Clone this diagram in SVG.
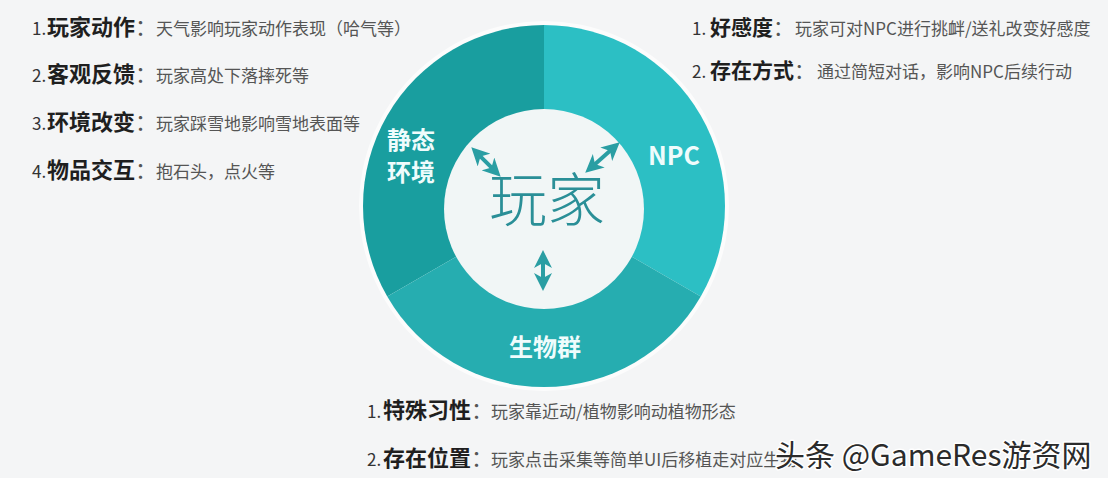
<svg xmlns="http://www.w3.org/2000/svg" width="1108" height="478" viewBox="0 0 1108 478">
  <style>
    text { font-family: "Noto Sans CJK SC", "Noto Sans", sans-serif; }
    .num { font-size: 17px; fill: #333; }
    .hd { font-size: 22px; font-weight: 700; fill: #1f1f1f; }
    .hdr { font-size: 21px; font-weight: 700; fill: #1f1f1f; }
    .col { font-weight: 400; fill: #555; }
    .ds { font-size: 17px; fill: #555; }
    .seglbl { font-size: 24px; font-weight: 700; fill: #effcfc; text-anchor: middle; }
    .player { font-size: 58px; font-weight: 300; fill: #2a8f97; text-anchor: middle; }
    .conn { stroke: #2a9ea3; stroke-width: 4; fill: none; marker-start: url(#ah); marker-end: url(#ah); }
    .wm { font-size: 30px; fill: #2b2b2b; stroke: #ffffff; stroke-width: 3; paint-order: stroke; stroke-linejoin: round; }
  </style>
  <defs>
    <marker id="ah" viewBox="0 0 18 18" refX="7" refY="9" markerWidth="18" markerHeight="18" orient="auto-start-reverse" markerUnits="userSpaceOnUse">
      <path d="M0,0 L18,9 L0,18 L5,9 Z" fill="#2a9ea3"/>
    </marker>
  </defs>
  <rect x="0" y="0" width="1108" height="478" fill="#f4f5f6"/>
  <circle cx="544" cy="206" r="185" fill="#ffffff" opacity="0.7"/>

  <g id="node-static">
    <path d="M544,206 L387.25,296.5 A181,181 0 0 1 544,25 Z" fill="#199e9f"/>
    <text class="seglbl" x="411" y="149">静态</text>
    <text class="seglbl" x="411" y="181">环境</text>
  </g>
  <g id="node-npc">
    <path d="M544,206 L544,25 A181,181 0 0 1 700.75,296.5 Z" fill="#2cbfc4"/>
    <text class="seglbl" x="674" y="165" style="font-size:25px">NPC</text>
  </g>
  <g id="node-bio">
    <path d="M544,206 L700.75,296.5 A181,181 0 0 1 387.25,296.5 Z" fill="#26adb0"/>
    <text class="seglbl" x="545" y="356">生物群</text>
  </g>
  <g id="node-player">
    <circle cx="544" cy="209" r="100" fill="#f1f6f6"/>
    <text class="player" x="547" y="221">玩家</text>
  </g>

  <g id="connectors">
    <line class="conn" x1="479.1" y1="155.1" x2="492.9" y2="168.9"/>
    <line class="conn" x1="611.5" y1="149.6" x2="593.5" y2="165.4"/>
    <line class="conn" x1="543" y1="261" x2="543" y2="280"/>
  </g>

  <g id="text-left">
    <text y="35"><tspan class="num" x="32">1.</tspan><tspan class="hd" x="47">玩家动作<tspan class="col">：</tspan></tspan><tspan class="ds" x="156">天气影响玩家动作表现（哈气等）</tspan></text>
    <text y="82"><tspan class="num" x="32">2.</tspan><tspan class="hd" x="47">客观反馈<tspan class="col">：</tspan></tspan><tspan class="ds" x="156">玩家高处下落摔死等</tspan></text>
    <text y="130"><tspan class="num" x="32">3.</tspan><tspan class="hd" x="47">环境改变<tspan class="col">：</tspan></tspan><tspan class="ds" x="156">玩家踩雪地影响雪地表面等</tspan></text>
    <text y="178"><tspan class="num" x="32">4.</tspan><tspan class="hd" x="47">物品交互<tspan class="col">：</tspan></tspan><tspan class="ds" x="156">抱石头，点火等</tspan></text>
  </g>

  <g id="text-right">
    <text y="35"><tspan class="num" x="692">1.</tspan><tspan class="hdr" x="710">好感度<tspan class="col">：</tspan></tspan><tspan class="ds" x="795">玩家可对NPC进行挑衅/送礼改变好感度</tspan></text>
    <text y="78"><tspan class="num" x="692">2.</tspan><tspan class="hdr" x="710">存在方式<tspan class="col">：</tspan></tspan><tspan class="ds" x="817">通过简短对话，影响NPC后续行动</tspan></text>
  </g>

  <g id="text-bottom">
    <text y="418"><tspan class="num" x="367">1.</tspan><tspan class="hd" x="383">特殊习性<tspan class="col">：</tspan></tspan><tspan class="ds" x="491">玩家靠近动/植物影响动植物形态</tspan></text>
    <text y="466"><tspan class="num" x="367">2.</tspan><tspan class="hd" x="383">存在位置<tspan class="col">：</tspan></tspan><tspan class="ds" x="491">玩家点击采集等简单UI后移植走对应生物</tspan></text>
  </g>

  <text class="wm" x="775" y="466">头条 @GameRes游资网</text>
</svg>
